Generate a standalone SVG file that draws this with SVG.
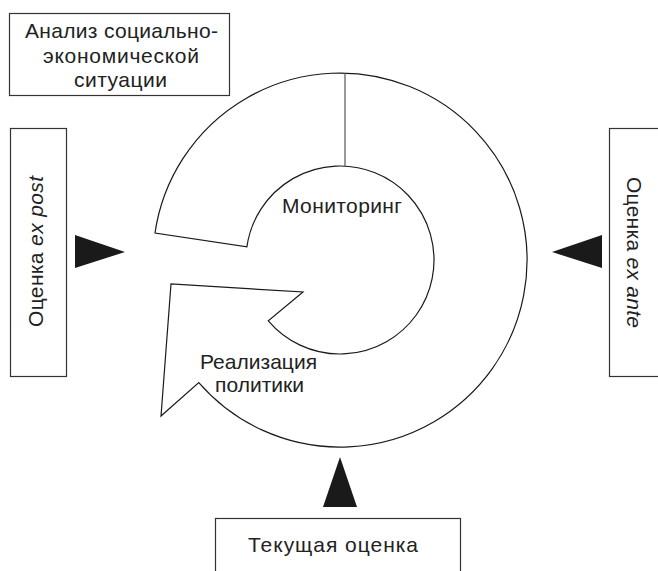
<svg xmlns="http://www.w3.org/2000/svg" width="658" height="571" viewBox="0 0 658 571">
  <style>
    .box { fill: #ffffff; stroke: #333333; stroke-width: 1.2; }
    .lbl { font-family: "Liberation Sans", Arial, Helvetica, sans-serif; font-size: 21px; fill: #222222; }
    .mid { text-anchor: middle; }
    .it { font-style: italic; }
    .band { fill: #ffffff; stroke: #1a1a1a; stroke-width: 1.2; stroke-linejoin: miter; }
    .tri { fill: #1a1a1a; stroke: none; }
  </style>
  <rect width="658" height="571" fill="#ffffff"/>

  <!-- cycle band: spiral ring with arrowhead on the lower left -->
  <g id="cycle">
    <path class="band" d="M155,233 A187,187 0 1 1 198.8,382.6 L161,416 L171,284 L303,292 L268.3,320.8 A94,94 0 1 0 246.9,246.9 Z"/>
    <line x1="345" y1="73.1" x2="345" y2="166.1" stroke="#555555" stroke-width="1.2"/>
  </g>

  <g id="monitoring">
    <text class="lbl" x="282" y="213" textLength="120" lengthAdjust="spacing">Мониторинг</text>
  </g>

  <g id="implementation">
    <text class="lbl" x="200" y="369" textLength="117" lengthAdjust="spacing">Реализация</text>
    <text class="lbl" x="215" y="392" textLength="89" lengthAdjust="spacing">политики</text>
  </g>

  <g id="analysis">
    <rect class="box" x="9.5" y="13.5" width="220" height="82"/>
    <text class="lbl" x="25" y="38" textLength="193" lengthAdjust="spacing">Анализ социально-</text>
    <text class="lbl" x="43" y="63" textLength="156" lengthAdjust="spacing">экономической</text>
    <text class="lbl" x="74" y="87" textLength="93" lengthAdjust="spacing">ситуации</text>
  </g>

  <g id="ex-post">
    <rect class="box" x="10.5" y="128.5" width="56" height="248"/>
    <text class="lbl" transform="translate(43,327) rotate(-90)" textLength="151" lengthAdjust="spacing">Оценка <tspan class="it">ex post</tspan></text>
  </g>

  <g id="ex-ante">
    <rect class="box" x="609.5" y="128.5" width="60" height="248"/>
    <text class="lbl" transform="translate(627,177) rotate(90)" textLength="151" lengthAdjust="spacing">Оценка <tspan class="it">ex ante</tspan></text>
  </g>

  <g id="current">
    <rect class="box" x="215.5" y="518.5" width="245" height="70"/>
    <text class="lbl" x="248" y="552" textLength="170" lengthAdjust="spacing">Текущая оценка</text>
  </g>

  <!-- evaluation pointers toward the cycle -->
  <g id="connectors">
    <polygon class="tri" points="75,235 125,252 75,268"/>
    <polygon class="tri" points="602,235 552,252 602,268"/>
    <polygon class="tri" points="340,457 357,507 323,507"/>
  </g>
</svg>
